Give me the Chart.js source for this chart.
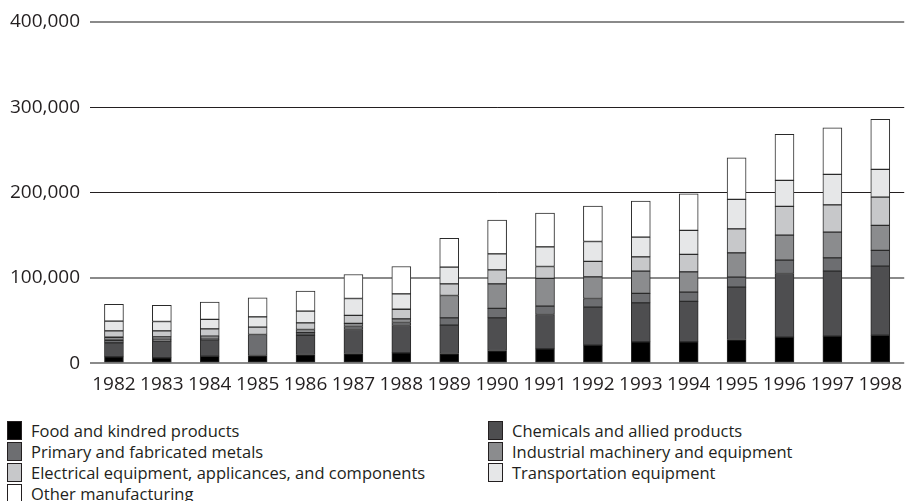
<!DOCTYPE html>
<html>
<head>
<meta charset="utf-8">
<script src="https://cdn.jsdelivr.net/npm/chart.js@4"></script>
<style>
  html, body { margin: 0; padding: 0; background: #fff; overflow: hidden; }
  #wrap { position: relative; width: 912px; height: 501px; }
  #chart { position: absolute; left: 0; top: 0; }
  .item { position: absolute; height: 20px; font-family: "Open Sans", sans-serif; font-size: 16.5px; color: #231f20; white-space: nowrap; }
  .item span.sw { position: absolute; left: 0; top: 0; width: 15px; height: 19px; border: 1px solid #231f20; box-sizing: border-box; }
  .item span.tx { position: absolute; left: 24px; top: -1px; line-height: 21px; }
</style>
</head>
<body>
<div id="wrap">
  <canvas id="chart" width="912" height="406"></canvas>
  <div id="legend"></div>
</div>
<script>
var years = ['1982','1983','1984','1985','1986','1987','1988','1989','1990','1991','1992','1993','1994','1995','1996','1997','1998'];

var food       = [7400, 6200, 8200, 9000, 10200, 11400, 12100, 11400, 14900, 16800, 21100, 25000, 25000, 27800, 30500, 31700, 32800];
var chemicals  = [16500, 19600, 19100, 0, 22600, 28100, 32100, 33200, 38200, 40300, 44600, 45700, 47400, 61300, 74700, 76200, 81000];
var metals     = [3000, 2500, 2200, 24600, 3000, 3500, 3500, 8500, 11100, 9800, 10200, 11100, 10900, 11800, 15600, 15600, 18400];
var industrial = [3500, 2600, 2200, 0, 3700, 3600, 4300, 26300, 28800, 32500, 25300, 26100, 23800, 28500, 29300, 30200, 29300];
var electrical = [7500, 7000, 8500, 8600, 7800, 9400, 11300, 13600, 16400, 14000, 18100, 16800, 20400, 28100, 33700, 32000, 33200];
var transport  = [11500, 11000, 11100, 12100, 13700, 19900, 18000, 19600, 18800, 23000, 23400, 23100, 28200, 34500, 30500, 35600, 32500];
var other      = [19500, 18800, 20300, 22300, 23500, 28100, 32100, 33700, 39500, 39600, 41500, 42200, 42900, 48800, 54000, 54700, 58700];

var yTicks = [0, 100000, 200000, 300000, 400000];

var series = [
    { label: 'Food and kindred products',                         data: food,       color: '#000000' },
    { label: 'Chemicals and allied products',                     data: chemicals,  color: '#4e4e50' },
    { label: 'Primary and fabricated metals',                     data: metals,     color: '#6d6e71' },
    { label: 'Industrial machinery and equipment',                data: industrial, color: '#8b8c8e' },
    { label: 'Electrical equipment, applicances, and components', data: electrical, color: '#c7c8ca' },
    { label: 'Transportation equipment',                          data: transport,  color: '#e6e7e8' },
    { label: 'Other manufacturing',                               data: other,      color: '#ffffff' }
];

var datasets = series.map(function(s) {
    return {
        label: s.label,
        data: s.data,
        backgroundColor: s.color,
        borderColor: '#2a2a2a',
        borderWidth: 1,
        borderSkipped: false,
        barThickness: 19
    };
});

// grid colour per tick: 200k / 300k lines are black, the rest grey
var gridColor = function(ctx) {
    var v = ctx.tick ? ctx.tick.value : 0;
    return (v === 200000 || v === 300000) ? '#231f20' : '#8a8a8a';
};
var gridWidth = function(ctx) {
    var v = ctx.tick ? ctx.tick.value : 0;
    return (v === 200000 || v === 300000) ? 1 : 2;
};

var ctx = document.getElementById('chart');
var chart = new Chart(ctx, {
    type: 'bar',
    data: { labels: years, datasets: datasets },
    options: {
        responsive: false,
        animation: false,
        layout: { padding: { top: 22, right: 0, bottom: 0, left: 0 } },
        plugins: {
            legend: { display: false },
            tooltip: { enabled: false }
        },
        scales: {
            x: {
                stacked: true,
                grid: { display: false, drawTicks: false },
                border: { display: false },
                ticks: {
                    color: '#231f20',
                    padding: 10,
                    maxRotation: 0,
                    autoSkip: false,
                    font: { family: '"Open Sans", sans-serif', size: 19 }
                }
            },
            y: {
                stacked: true,
                min: 0,
                max: 400000,
                afterFit: function(scale) { scale.width = 90; },
                afterBuildTicks: function(scale) {
                    scale.ticks = yTicks.map(function(v) { return { value: v }; });
                },
                grid: { color: gridColor, lineWidth: gridWidth, drawTicks: false },
                border: { display: false },
                ticks: {
                    color: '#231f20',
                    padding: 10,
                    font: { family: '"Open Sans", sans-serif', size: 19 },
                    callback: function(v) { return v.toLocaleString('en-US'); }
                }
            }
        }
    }
});

// legend in two columns, filled row by row
var legend = document.getElementById('legend');
chart.data.datasets.forEach(function(ds, i) {
    var col = i % 2, row = Math.floor(i / 2);
    var el = document.createElement('div');
    el.className = 'item';
    el.style.left = (col ? 488 : 7) + 'px';
    el.style.top = (421 + row * 21) + 'px';
    el.innerHTML = '<span class="sw" style="background:' + ds.backgroundColor + '"></span><span class="tx"></span>';
    el.querySelector('.tx').textContent = ds.label;
    legend.appendChild(el);
});
</script>
</body>
</html>
